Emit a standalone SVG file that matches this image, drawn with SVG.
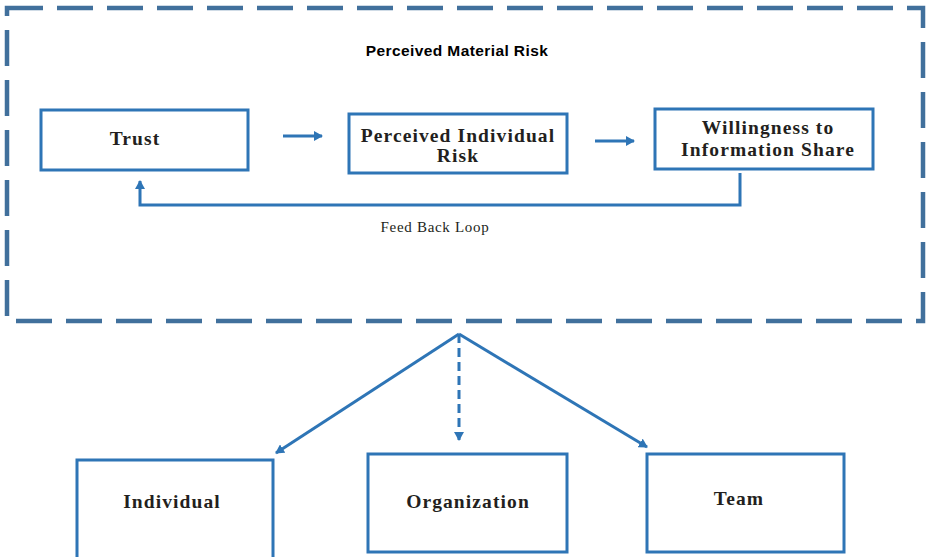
<svg xmlns="http://www.w3.org/2000/svg" width="926" height="557" viewBox="0 0 926 557">
<style>
.box{fill:#fff;stroke:#2e75b6;stroke-width:3}
.lbl{font-family:"Liberation Serif",serif;font-weight:bold;font-size:19.5px;letter-spacing:1.1px;fill:#231f20;text-anchor:middle}
.con{fill:none;stroke:#2e75b6;stroke-width:3}
</style>
<defs>
<marker id="ah" markerWidth="10" markerHeight="10" refX="8" refY="5" orient="auto" markerUnits="userSpaceOnUse">
<path d="M0,0 L9,5 L0,10 Z" fill="#2e75b6"/>
</marker>
</defs>
<rect width="926" height="557" fill="#fff"/>
<g id="frame">
<rect x="7" y="8" width="916" height="313" fill="none" stroke="#41709c" stroke-width="4.5" stroke-dasharray="36 14"/>
<text x="457" y="56" font-family="Liberation Sans,Arial,sans-serif" font-weight="bold" font-size="15.5" letter-spacing="0.4" fill="#000" text-anchor="middle">Perceived Material Risk</text>
</g>
<g id="trust">
<rect class="box" x="41" y="110" width="207" height="60"/>
<text class="lbl" x="135" y="145" font-size="20" letter-spacing="0.6">Trust</text>
</g>
<g id="pir">
<rect class="box" x="349" y="114" width="218" height="59"/>
<text class="lbl" x="458" y="142">Perceived Individual</text>
<text class="lbl" x="458" y="162">Risk</text>
</g>
<g id="wis">
<rect class="box" x="655" y="109" width="218" height="60"/>
<text class="lbl" x="768" y="134">Willingness to</text>
<text class="lbl" x="768" y="156">Information Share</text>
</g>
<g id="individual">
<rect class="box" x="77" y="460" width="196" height="105"/>
<text class="lbl" x="172" y="508">Individual</text>
</g>
<g id="organization">
<rect class="box" x="368" y="454" width="199" height="98"/>
<text class="lbl" x="468" y="508">Organization</text>
</g>
<g id="team">
<rect class="box" x="647" y="454" width="197" height="98"/>
<text class="lbl" x="739" y="505">Team</text>
</g>
<g id="connectors">
<line class="con" x1="283" y1="136" x2="322" y2="136" marker-end="url(#ah)"/>
<line class="con" x1="595" y1="141" x2="634" y2="141" marker-end="url(#ah)"/>
<path class="con" d="M740,173 V205 H140 V181" marker-end="url(#ah)"/>
<text x="435" y="232" font-family="Liberation Serif,serif" font-size="15" letter-spacing="0.7" fill="#231f20" text-anchor="middle">Feed Back Loop</text>
<line class="con" x1="459" y1="334" x2="276" y2="453" marker-end="url(#ah)"/>
<line class="con" x1="459" y1="334" x2="647" y2="447" marker-end="url(#ah)"/>
<line class="con" x1="459" y1="334" x2="459" y2="440" stroke-width="4" stroke-dasharray="9 5" marker-end="url(#ah)"/>
</g>
</svg>
